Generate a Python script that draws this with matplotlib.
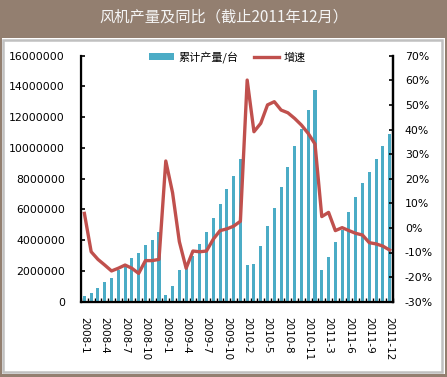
import matplotlib
matplotlib.use("Agg")
import matplotlib.pyplot as plt
from matplotlib.patches import Rectangle, Patch
from matplotlib.lines import Line2D
from matplotlib.ticker import FuncFormatter

plt.rcParams['font.family'] = ['DejaVu Sans', 'Noto Sans CJK SC']

# 月份（2010-1、2011-1 与 2 月合并）
months = ['2008-1', '2008-2', '2008-3', '2008-4', '2008-5', '2008-6',
          '2008-7', '2008-8', '2008-9', '2008-10', '2008-11', '2008-12',
          '2009-1', '2009-2', '2009-3', '2009-4', '2009-5', '2009-6',
          '2009-7', '2009-8', '2009-9', '2009-10', '2009-11', '2009-12',
          '2010-2', '2010-3', '2010-4', '2010-5', '2010-6', '2010-7',
          '2010-8', '2010-9', '2010-10', '2010-11', '2010-12',
          '2011-2', '2011-3', '2011-4', '2011-5', '2011-6', '2011-7',
          '2011-8', '2011-9', '2011-10', '2011-11', '2011-12']

# 累计产量/台
output = [370000, 570000, 900000, 1290000, 1550000, 2070000,
          2330000, 2860000, 3200000, 3700000, 4030000, 4510000,
          440000, 1030000, 2030000, 2290000, 2940000, 3770000,
          4560000, 5470000, 6380000, 7300000, 8200000, 9260000,
          2400000, 2460000, 3640000, 4900000, 6120000, 7430000,
          8740000, 10110000, 11220000, 12460000, 13770000,
          2030000, 2920000, 3900000, 4690000, 5860000, 6800000,
          7690000, 8430000, 9260000, 10110000, 10900000]

# 增速 (%)
growth = [5.9, -9.7, -12.8, -15.1, -17.5, -16.4,
          -15.1, -16.4, -18.5, -13.3, -13.3, -12.8,
          27.2, 14.3, -5.6, -16.4, -9.4, -9.7,
          -9.4, -4.6, -1.1, -0.4, 0.7, 2.7,
          60.1, 39.1, 42.5, 50.0, 51.3, 47.9,
          46.8, 44.5, 41.8, 38.4, 34.1,
          4.6, 6.3, -1.1, 0.1, -1.1, -2.2,
          -2.9, -6.0, -6.5, -7.4, -9.0]

left_ticks = [0, 2000000, 4000000, 6000000, 8000000, 10000000,
              12000000, 14000000, 16000000]
right_ticks = [-30, -20, -10, 0, 10, 20, 30, 40, 50, 60, 70]

BROWN = '#937F70'
BAR = '#4BACC6'
LINE = '#C0504D'


def main():
    W, H = 447, 377
    fig = plt.figure(figsize=(W / 100, H / 100), dpi=100, facecolor=BROWN)

    # white panel with grey frame (behind the axes)
    fig.patches.append(Rectangle((2 / W, 3 / H), 443 / W, 336 / H,
                                 transform=fig.transFigure, facecolor='white',
                                 edgecolor='none', zorder=-10))
    fig.patches.append(Rectangle((3.2 / W, 5.2 / H), 438.5 / W, 332 / H,
                                 transform=fig.transFigure, facecolor='none',
                                 edgecolor='#C0C0C0', lw=1.8, zorder=-9))

    fig.text(0.5, 1 - 17 / H, '风机产量及同比（截止2011年12月）',
             ha='center', va='center', color='#F5F5F5', fontsize=11,
             family=['Noto Sans CJK SC', 'DejaVu Sans'])

    ax = fig.add_axes([81 / W, 1 - 301.7 / H, 312 / W, 246 / H])
    ax.set_facecolor('none')
    x = list(range(len(months)))
    ax.bar(x, output, width=0.45, color=BAR, zorder=2)
    ax.set_xlim(-0.5, len(months) - 0.5)
    ax.set_ylim(0, 16000000)
    ax.set_yticks(left_ticks)
    ax.set_yticklabels([str(v) for v in left_ticks])

    ax.set_xticks(x[::3])
    ax.set_xticklabels(months[::3], rotation=270)
    ax.set_xticks([i - 0.5 for i in range(len(months) + 1)], minor=True)
    ax.tick_params(axis='x', which='major', length=0, pad=11, labelsize=7.5)
    ax.tick_params(axis='x', which='minor', direction='in', length=3,
                   width=1)
    ax.tick_params(axis='y', direction='in', length=3, width=1.2, pad=11.5,
                   labelsize=7.8)

    ax.spines['top'].set_visible(False)
    for s in ['left', 'bottom', 'right']:
        ax.spines[s].set_linewidth(1.6)

    ax2 = ax.twinx()
    ax2.plot(x, growth, color=LINE, lw=2.4, zorder=3)
    ax2.set_ylim(-30, 70)
    ax2.set_yticks(right_ticks)
    ax2.yaxis.set_major_formatter(FuncFormatter(lambda v, p: f'{v:.0f}%'))
    ax2.tick_params(axis='y', direction='in', length=3, width=1.2, pad=8.5,
                    labelsize=7.8)
    ax2.spines['top'].set_visible(False)
    ax2.spines['right'].set_linewidth(1.6)

    handles = [Patch(facecolor=BAR, edgecolor='none'),
               Line2D([], [], color=LINE, lw=2.4)]
    fig.legend(handles, ['累计产量/台', '增速'], loc='center',
               bbox_to_anchor=(227 / W, 1 - 57 / H), ncol=2, frameon=False,
               prop={'family': ['Noto Sans CJK SC', 'DejaVu Sans'], 'size': 8},
               handlelength=2.25, handleheight=0.6, handletextpad=0.4,
               columnspacing=1.4)

    fig.savefig('out.png', dpi=100, facecolor=BROWN)


if __name__ == "__main__":
    main()
